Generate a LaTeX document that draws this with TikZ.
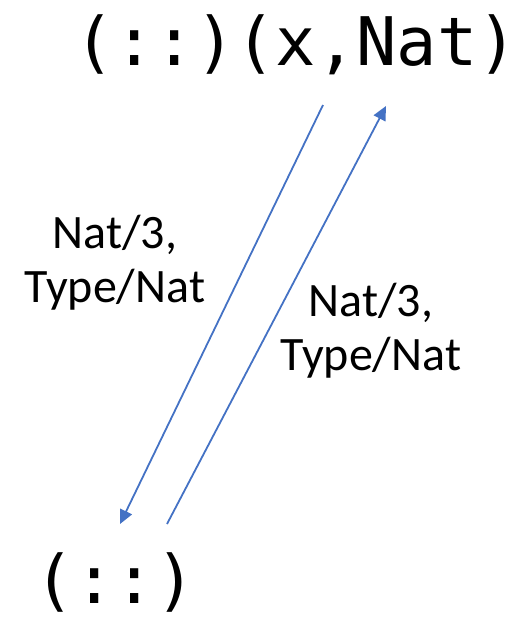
\documentclass[tikz,border=0pt]{standalone}
\usepackage{fontspec}
\setmainfont{Carlito}
\newfontfamily\codefont{DejaVu Sans Mono}
\usetikzlibrary{arrows.meta, positioning, calc}
\definecolor{arrowblue}{HTML}{4472C4}

\begin{document}
\begin{tikzpicture}[x=1pt, y=-1pt,
    code/.style={font=\codefont\fontsize{67}{70}\selectfont, inner sep=0pt},
    lbl/.style={font=\fontsize{48}{54}\selectfont, align=center, inner sep=0pt},
    link/.style={arrowblue, line width=1.8pt, -{Triangle[length=14pt, width=13pt]}}]
  \useasboundingbox (0,0) rectangle (524,619);
  % the two terms
  \node[code, anchor=base] (pair) at (296,65) {(::)(x,Nat)};
  \node[code, anchor=base] (unit) at (115,603) {(::)};
  % arrow end points
  \coordinate (downstart) at (323,105);
  \coordinate (downend) at (120,524);
  \coordinate (upstart) at (167,524);
  \coordinate (upend) at (386,106);
  \draw[link] (downstart) -- (downend);
  \draw[link] (upstart) -- (upend);
  % labels
  \node[lbl, anchor=base] (downlbl) at (115,302) {Nat/3,\\Type/Nat};
  \node[lbl, anchor=base] (uplbl) at (371,370) {Nat/3,\\Type/Nat};
\end{tikzpicture}
\end{document}
